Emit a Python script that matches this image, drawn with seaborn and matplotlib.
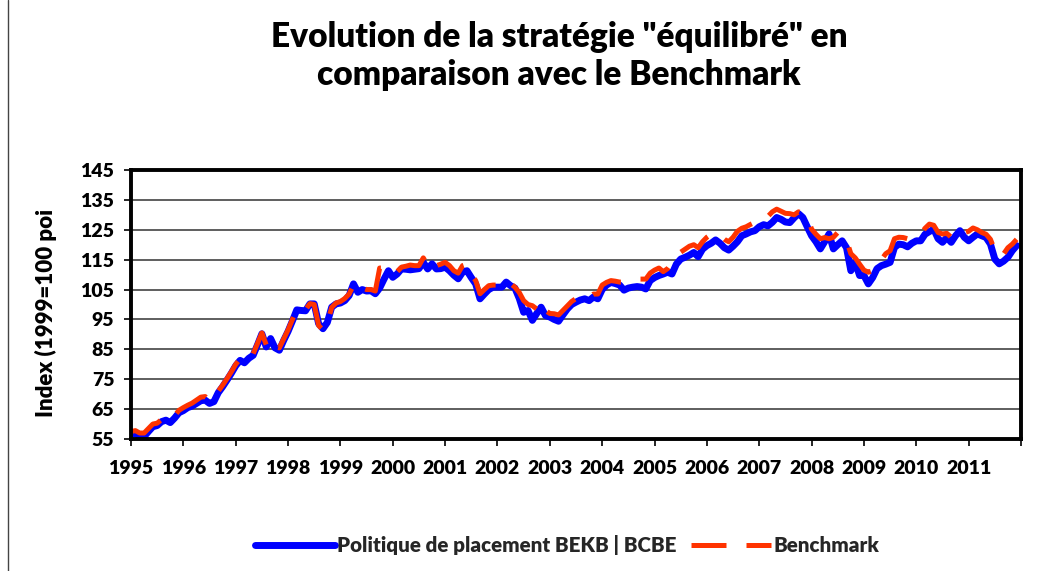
import numpy as np
import pandas as pd
import matplotlib
matplotlib.use("Agg")
import matplotlib.pyplot as plt
import seaborn as sns
from matplotlib.lines import Line2D

# ---------------- data (monthly index values, Jan 1995 - Dec 2011) ----------------
years = [str(y) for y in range(1995, 2012)]

politique = [
    56.5, 56.8, 55.9, 55.8, 57.5, 59.1, 59.5, 60.8, 61.3, 60.5, 62.0, 63.8,        # 1995
    64.5, 65.5, 66.0, 66.9, 67.8, 68.0, 66.9, 67.5, 70.5, 72.5, 74.7, 77.0,        # 1996
    79.5, 81.3, 80.5, 82.0, 83.0, 86.5, 90.2, 85.8, 88.6, 85.5, 84.7, 88.0,        # 1997
    91.0, 94.5, 98.2, 98.0, 97.9, 100.2, 100.2, 93.6, 91.9, 94.0, 99.1, 100.2,     # 1998
    100.5, 101.3, 103.0, 106.9, 104.1, 105.0, 104.5, 104.6, 103.6, 105.5, 108.5, 111.3,  # 1999
    109.1, 110.2, 111.9, 111.8, 111.6, 111.8, 112.0, 114.1, 111.9, 113.6, 111.9, 112.0,  # 2000
    112.5, 111.3, 109.8, 108.6, 110.8, 111.3, 109.0, 106.9, 101.9, 103.5, 105.0, 105.8,  # 2001
    105.8, 105.8, 107.5, 106.3, 105.5, 102.0, 97.4, 98.0, 94.7, 97.0, 99.1, 96.3,        # 2002
    95.8, 95.0, 94.4, 96.5, 98.5, 100.0, 100.8, 101.5, 101.9, 101.3, 102.5, 101.9,       # 2003
    105.0, 106.5, 107.4, 107.0, 106.5, 104.8, 105.5, 105.8, 106.0, 105.8, 105.2, 108.0,  # 2004
    109.0, 109.7, 110.2, 110.8, 110.2, 113.5, 115.2, 115.8, 116.5, 117.4, 116.0, 118.5,  # 2005
    119.7, 120.5, 121.6, 120.5, 119.0, 118.2, 119.5, 121.0, 123.0, 123.6, 124.3, 124.7,  # 2006
    126.0, 126.7, 126.3, 127.5, 129.1, 128.5, 127.6, 127.4, 129.0, 130.4, 129.1, 126.0,  # 2007
    123.0, 121.0, 118.6, 121.0, 123.6, 118.6, 120.0, 121.3, 119.0, 111.3, 114.1, 109.7,  # 2008
    109.7, 106.9, 109.0, 112.0, 113.0, 113.5, 114.1, 119.1, 120.2, 120.0, 119.3, 120.5,  # 2009
    121.3, 121.3, 123.5, 124.4, 125.2, 122.0, 120.8, 122.4, 120.8, 123.0, 124.7, 122.5,  # 2010
    121.3, 122.5, 123.6, 123.0, 122.4, 120.2, 115.2, 113.6, 114.5, 115.8, 118.0, 119.7,  # 2011
]

benchmark = [
    57.5, 57.8, 57.0, 57.0, 58.5, 60.0, 60.3, 61.5, 61.8, 61.2, 62.8, 64.6,        # 1995
    65.5, 66.3, 67.0, 68.0, 69.0, 69.2, 67.8, 68.0, 71.0, 73.0, 75.2, 77.5,        # 1996
    80.0, 81.8, 81.0, 82.5, 83.5, 87.0, 90.5, 86.5, 88.5, 85.8, 85.5, 88.5,        # 1997
    91.5, 95.0, 98.5, 98.2, 98.2, 100.3, 100.0, 93.0, 91.5, 93.8, 99.0, 100.5,     # 1998
    101.0, 102.0, 103.5, 106.5, 104.5, 105.5, 105.0, 105.0, 104.5, 112.2, 112.2, 111.5,  # 1999
    110.0, 111.0, 112.5, 112.8, 113.2, 113.0, 113.0, 115.6, 113.0, 114.5, 113.0, 113.5,  # 2000
    114.1, 113.0, 111.3, 110.5, 113.0, 113.5, 110.0, 108.0, 103.6, 105.0, 106.3, 106.5,  # 2001
    106.5, 106.5, 108.0, 107.0, 105.8, 104.0, 101.3, 100.0, 99.6, 98.5, 100.8, 98.0,     # 2002
    97.0, 96.9, 96.5, 98.0, 99.5, 101.0, 102.0, 103.0, 103.0, 102.5, 103.5, 103.5,       # 2003
    106.5, 107.4, 108.0, 107.8, 107.5, 107.5, 108.0, 108.2, 108.5, 108.5, 108.5, 110.5,  # 2004
    111.5, 112.2, 111.0, 112.0, 114.0, 115.8, 117.5, 118.5, 119.5, 120.0, 119.0, 121.0,  # 2005
    122.5, 123.5, 124.1, 123.0, 121.8, 121.0, 122.5, 124.5, 125.5, 126.0, 126.8, 127.5,  # 2006
    129.0, 129.7, 129.5, 131.0, 131.9, 131.2, 130.5, 130.4, 130.0, 131.0, 130.4, 129.5,  # 2007
    125.2, 123.5, 122.0, 122.4, 122.0, 122.5, 124.1, 123.0, 121.5, 117.0, 115.6, 113.5,  # 2008
    111.5, 110.8, 111.3, 114.0, 115.0, 117.0, 118.0, 122.0, 122.5, 122.4, 122.0, 123.0,  # 2009
    123.0, 123.5, 125.5, 126.9, 126.5, 124.1, 123.6, 123.8, 122.5, 124.5, 125.0, 124.0,  # 2010
    124.5, 125.6, 125.0, 124.1, 123.5, 121.8, 118.0, 116.0, 116.9, 119.0, 120.2, 121.8,  # 2011
]

series_names = ["Politique de placement BEKB | BCBE", "Benchmark"]
title = 'Evolution de la stratégie "équilibré" en\ncomparaison avec le Benchmark'
ylabel = "Index (1999=100 poi"
y_ticks = [55, 65, 75, 85, 95, 105, 115, 125, 135, 145]

# ---------------- styling ----------------
BLUE = "#0000FF"
RED = "#FF3300"

sns.set_theme(style="white")
plt.rcParams["font.family"] = ["Lato", "DejaVu Sans"]
plt.rcParams["font.weight"] = "bold"

W, H = 1063, 571
fig = plt.figure(figsize=(W / 100, H / 100), dpi=100)
fig.patch.set_facecolor("white")

ax = fig.add_axes([131 / W, 1 - 439 / H, 890 / W, 269 / H])

n = len(politique)
df = pd.DataFrame({"mois": np.arange(n), "politique": politique, "benchmark": benchmark})

sns.lineplot(data=df, x="mois", y="politique", ax=ax, color=BLUE, linewidth=5.0,
             estimator=None, errorbar=None, solid_capstyle="round", solid_joinstyle="round")
sns.lineplot(data=df, x="mois", y="benchmark", ax=ax, color=RED, linewidth=3.6,
             estimator=None, errorbar=None)
ax.lines[-1].set_dashes([7, 4])
ax.lines[-1].set_dash_capstyle("butt")

ax.set_xlim(0, 12 * len(years))
ax.set_ylim(55, 145)
ax.set_yticks(y_ticks)
ax.set_yticklabels([str(v) for v in y_ticks])
ax.set_xticks(range(0, 12 * len(years) + 1, 12))
ax.set_xticklabels(years + [""])

ax.yaxis.grid(True, color="#333333", linewidth=1.1)
ax.xaxis.grid(False)
ax.set_axisbelow(True)
for s in ax.spines.values():
    s.set_visible(True)
    s.set_color("black")
    s.set_linewidth(2.8)

ax.tick_params(axis="both", which="major", direction="out", length=5, width=1.2,
               color="black", labelsize=14, labelcolor="black",
               bottom=True, left=True)
ax.tick_params(axis="y", pad=7)
ax.tick_params(axis="x", pad=10)
for lab in ax.get_xticklabels() + ax.get_yticklabels():
    lab.set_fontweight("heavy")

ax.set_xlabel("")
ax.set_ylabel(ylabel, fontsize=16, fontweight="heavy", color="black")
ax.yaxis.set_label_coords(-0.083, 0.467)

fig.text(559 / W, 1 - 56 / H, title, ha="center", va="center", fontsize=24,
         fontweight="heavy", color="black", linespacing=1.2)

handles = [
    Line2D([], [], color=BLUE, linewidth=5.0, solid_capstyle="round"),
    Line2D([], [], color=RED, linewidth=3.6, dashes=[7, 4], dash_capstyle="butt"),
]
fig.legend(handles, series_names, loc="center", bbox_to_anchor=(567 / W, 1 - 545 / H),
           ncol=2, frameon=False, handlelength=3.9, handletextpad=0.12,
           columnspacing=0.7, prop={"weight": "heavy", "size": 14.8})

# outer chart frame (left edge)
fig.add_artist(Line2D([8 / W, 8 / W], [0, 1], transform=fig.transFigure,
                      color="#444444", linewidth=1.0))

fig.savefig("out.png", dpi=100, facecolor="white")
